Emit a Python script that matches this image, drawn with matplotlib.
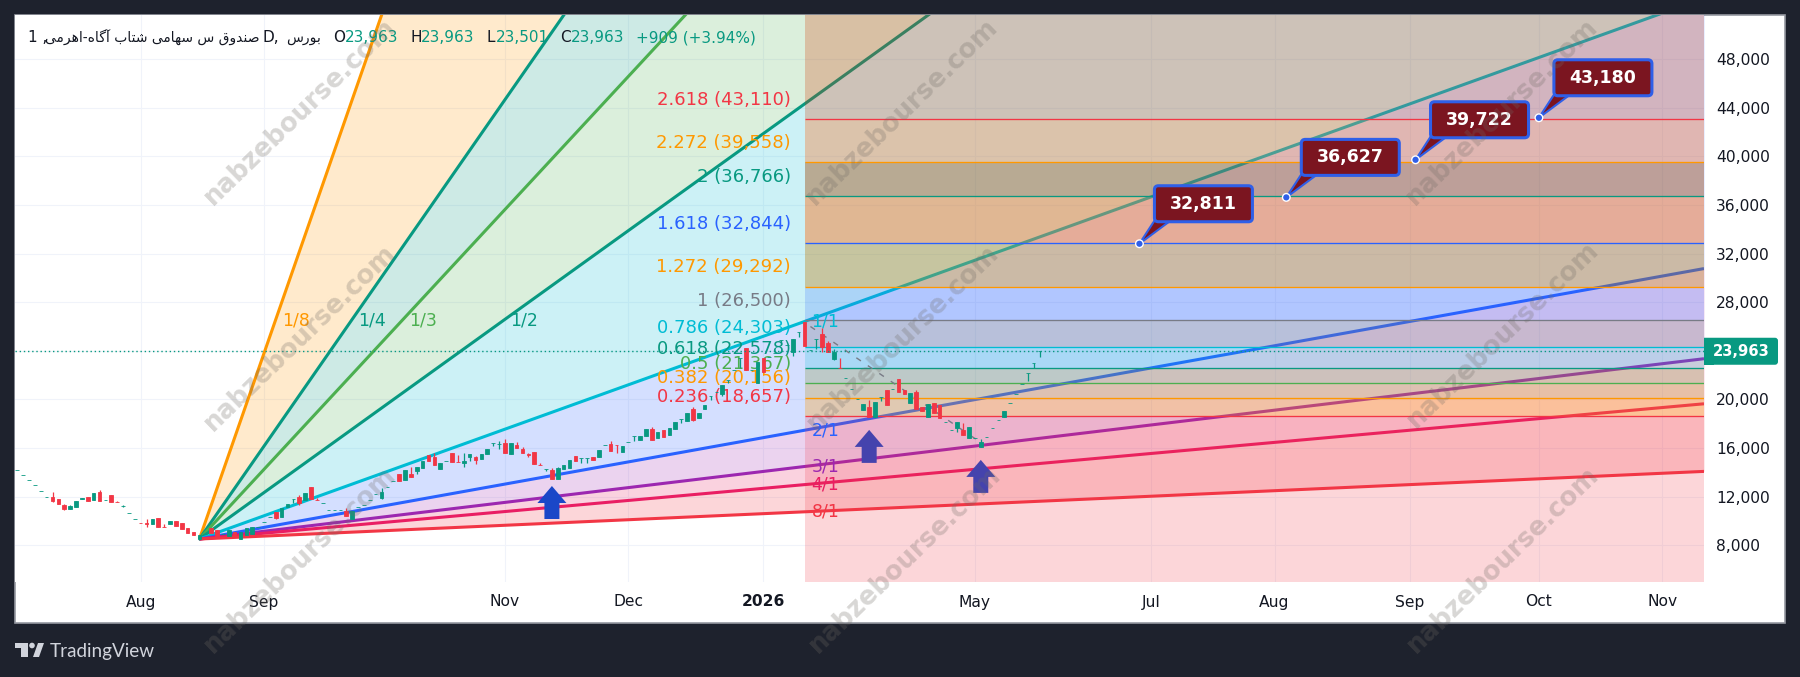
import numpy as np
import matplotlib
matplotlib.use("Agg")
import matplotlib.pyplot as plt
from matplotlib.patches import Polygon, Rectangle, FancyBboxPatch, Circle
from matplotlib.transforms import Affine2D

W, H = 1800, 677
BG = "#1e222d"
GREEN = "#089981"
RED = "#f23645"
ORANGE = "#ff9800"
BLUE = "#2962ff"
CYAN = "#00bcd4"
TEAL = "#089981"
LIME = "#4caf50"
PURPLE = "#9c27b0"
PINK = "#e91e63"
GRAY = "#787b86"

# daily candles
opens = [14160, 13750, 13340, 12930, 12435, 11940, 11940, 11780, 11333, 10980,
         11170, 11780, 12000, 11720, 12400, 11720, 12130, 11580, 11250, 10620,
         10180, 9860, 9850, 9720, 10210, 9510, 9745, 10020, 9800, 9390,
         9060, 8500, 8920, 9390, 9250, 8920, 8780, 9110, 8535, 8840,
         8920, 9520, 9885, 10320, 10760, 10345, 11120, 11780, 11940, 11720,
         12815, 11730, 11450, 10900, 10900, 10900, 10815, 10130, 11140, 11280,
         11720, 12190, 11860, 12815, 13283, 13860, 13366, 13860, 14100, 14330,
         15420, 15285, 14250, 14950, 15560, 14860, 14790, 15230, 15285, 15070,
         15480, 16385, 16300, 16385, 15480, 16250, 15890, 15500, 15650, 14610,
         14250, 14190, 13475, 14270, 14380, 15365, 15200, 15150, 15285, 15285,
         16250, 16330, 16260, 15650, 16520, 17010, 16660, 16990, 17560, 16850,
         17480, 17045, 17560, 18360, 18220, 19180, 18490, 19210, 20280, 20630,
         20445, 21596, 22400, 23380, 24200, 22420, 21370, 23380, 23500, 23800,
         24890, 24480, 23900, 25520, 26400, 24040, 24970, 25380, 24620, 23320,
         22610, 21740, 20830, 20010, 19127, 19400, 18580, 20170, 20770, 20830,
         21680, 20750, 19730, 20630, 19400, 18570, 19730, 19540, 18160, 17480,
         17620, 17480, 16850, 16800, 16100, 16900, 17620, 18300, 18570, 19680,
         20420, 21240, 22150, 22970, 23963]
highs = [14160, 13750, 13340, 12930, 12435, 11940, 12350, 11780, 11390, 11280,
         11610, 11910, 12000, 12270, 12543, 11720, 12130, 11640, 11290, 10620,
         10180, 9860, 10130, 10155, 10210, 9745, 9970, 10020, 9800, 9390,
         9060, 8860, 8920, 9390, 9250, 8920, 9250, 9110, 9110, 9390,
         9470, 9520, 9885, 10320, 10760, 11040, 11390, 11780, 12130, 12320,
         12815, 11910, 11450, 10900, 10900, 10900, 11040, 10840, 11140, 11280,
         11720, 12190, 12680, 12815, 13283, 13860, 14189, 14460, 14410, 14930,
         15420, 15560, 14740, 14950, 15560, 15420, 15560, 15480, 15365, 15480,
         15920, 16385, 16600, 16740, 16385, 16520, 16100, 15610, 15650, 14740,
         14250, 14330, 14410, 14600, 15010, 15365, 15200, 15150, 15285, 15810,
         16250, 16575, 16260, 16190, 16520, 17010, 16990, 17540, 17750, 17290,
         17480, 17670, 18160, 18360, 18850, 19400, 18900, 19540, 20280, 20630,
         21180, 21596, 22400, 23380, 24200, 22420, 23100, 23380, 23500, 23800,
         24890, 24480, 25000, 25520, 26400, 24040, 24970, 25850, 24800, 24130,
         23380, 21740, 20830, 20010, 19620, 19950, 19780, 20170, 20770, 20830,
         21680, 20750, 20500, 20770, 19400, 19600, 19730, 19540, 18160, 17480,
         18110, 18030, 17750, 16800, 16740, 16900, 17620, 18300, 19070, 19680,
         20420, 21240, 22150, 22970, 23963]
lows = [14160, 13750, 13340, 12930, 12435, 11940, 11580, 11415, 10900, 10940,
        11170, 11780, 11610, 11720, 11660, 11720, 11580, 11530, 11110, 10620,
        10180, 9850, 9470, 9720, 9500, 9500, 9745, 9600, 9330, 9030,
        8860, 8420, 8920, 9030, 8780, 8920, 8780, 8760, 8535, 8840,
        8920, 9520, 9885, 10320, 10130, 10345, 11120, 11450, 11310, 11720,
        11780, 11720, 11450, 10900, 10900, 10900, 10400, 10130, 11140, 11280,
        11720, 12190, 11780, 12815, 13283, 13310, 13366, 13590, 13880, 14330,
        14930, 14600, 14250, 14950, 14850, 14850, 14460, 14930, 14680, 15070,
        15480, 16190, 15890, 15560, 15480, 15975, 15560, 15280, 14680, 14600,
        14100, 13450, 13475, 14270, 14380, 14930, 14790, 14790, 15010, 15285,
        16250, 15750, 15610, 15650, 16520, 16575, 16660, 16990, 16660, 16850,
        16930, 17045, 17560, 18030, 18220, 18200, 18490, 19210, 19950, 20630,
        20280, 21320, 22400, 22560, 22420, 22420, 21370, 22280, 23500, 23800,
        24480, 24480, 23560, 25130, 24420, 24040, 24180, 23880, 23930, 23240,
        22600, 21740, 20830, 20010, 19127, 18530, 18580, 19870, 19540, 20830,
        20630, 20440, 19730, 19210, 19070, 18570, 18900, 18500, 18160, 17480,
        17340, 17070, 16850, 16800, 16100, 16900, 17620, 18300, 18570, 19680,
        20420, 21240, 21540, 22560, 23501]
closes = [14160, 13750, 13340, 12930, 12435, 11940, 11640, 11415, 10950, 11226,
          11610, 11910, 11610, 12270, 11660, 11720, 11580, 11530, 11250, 10620,
          10180, 9850, 9720, 10155, 9500, 9500, 9970, 9600, 9330, 9030,
          8860, 8800, 8920, 9030, 8780, 8920, 9250, 8760, 9110, 9390,
          9470, 9520, 9885, 10320, 10210, 11040, 11390, 11780, 11500, 12320,
          11780, 11720, 11450, 10900, 10900, 10900, 10400, 10840, 11140, 11280,
          11720, 12190, 12400, 12815, 13283, 13310, 14189, 13590, 14410, 14930,
          14950, 14600, 14740, 14950, 14850, 14850, 14950, 15480, 15010, 15480,
          15920, 16385, 16350, 15560, 16385, 15975, 15560, 15400, 14680, 14600,
          14250, 13450, 14330, 14600, 15010, 14930, 15200, 15150, 15010, 15810,
          16250, 15750, 16250, 16190, 16520, 17010, 16990, 17540, 16660, 17290,
          16930, 17670, 18160, 18360, 18850, 18300, 18900, 19540, 20280, 20630,
          21180, 21596, 22400, 23380, 22420, 22420, 23100, 22280, 23500, 23800,
          24890, 24480, 25000, 25520, 24420, 24040, 24970, 24340, 23930, 23930,
          22600, 21740, 20830, 20010, 19620, 18530, 19780, 20170, 19540, 20830,
          20630, 20440, 20500, 19210, 19070, 19600, 18900, 18500, 18160, 17480,
          18110, 17070, 17750, 16800, 16520, 16900, 17620, 18300, 19070, 19680,
          20420, 21240, 22150, 22970, 23963]

# axes
price_ticks = [8000, 12000, 16000, 20000, 24000, 28000, 32000, 36000, 40000, 44000, 48000]
shown_price_ticks = [8000, 12000, 16000, 20000, 28000, 32000, 36000, 40000, 44000, 48000]
date_bars = [21, 42, 83, 104, 127, 163, 193, 214, 237, 259, 280]
date_labels = ["Aug", "Sep", "Nov", "Dec", "2026", "May", "Jul", "Aug", "Sep", "Oct", "Nov"]
price_min, price_max = 4971, 51638
bar_min, bar_max = -0.39, 287.1

# fibonacci retracement
fib_left_bar = 134
fib_levels = [2.618, 2.272, 2, 1.618, 1.272, 1, 0.786, 0.618, 0.5, 0.382, 0.236]
fib_values = [43110, 39558, 36766, 32844, 29292, 26500, 24303, 22578, 21367, 20156, 18657]
fib_colors = [RED, ORANGE, TEAL, BLUE, ORANGE, GRAY, CYAN, TEAL, LIME, ORANGE, RED]
band_colors = ["#d03600", "#ff5a00", "#9b4100", "#ff6100", "#bd7500", BLUE,
               GRAY, CYAN, "#899949", "#be9928", ORANGE, RED]
band_alphas = [0.25, 0.3, 0.4, 0.4, 0.35, 0.2, 0.3, 0.2, 0.3, 0.3, 0.3, 0.2]

# fan from the August low
fan_bar, fan_price = 31, 8510
fan_end_bar, fan_end_price = 134.5, 26500
fan_names = ["1/8", "1/4", "1/3", "1/2", "1/1", "2/1", "3/1", "4/1", "8/1"]
fan_mults = [8, 4, 3, 2, 1, 1 / 2, 1 / 3, 1 / 4, 1 / 8]
fan_colors = [ORANGE, TEAL, LIME, TEAL, CYAN, BLUE, PURPLE, PINK, RED]
sector_colors = [ORANGE, TEAL, LIME, CYAN, BLUE, PURPLE, PINK, RED]

# markers drawn on top
arrow_bars = [91, 145, 164]
arrow_prices = [12872, 17490, 15020]
target_bars = [191, 216, 238, 259]
target_values = [32811, 36627, 39722, 43180]
trend_bars = [135, 164]
trend_prices = [26000, 16450]

header_values = [("O", 333, "23,963", 345), ("H", 410, "23,963", 421),
                 ("L", 487, "23,501", 496), ("C", 560, "23,963", 571)]
header_change = "+909 (+3.94%)"
watermark_centers = [(300, 112), (300, 338), (300, 560), (902, 112), (903, 338),
                     (905, 560), (1502, 112), (1503, 335), (1503, 560)]

# presentation forms: isolated, final, initial, medial
FORMS = {"ص": "\ufeb9\ufeba\ufebb\ufebc", "ن": "\ufee5\ufee6\ufee7\ufee8", "د": "\ufea9\ufeaa",
         "و": "\ufeed\ufeee", "ق": "\ufed5\ufed6\ufed7\ufed8", "س": "\ufeb1\ufeb2\ufeb3\ufeb4",
         "ه": "\ufee9\ufeea\ufeeb\ufeec", "ا": "\ufe8d\ufe8e", "م": "\ufee1\ufee2\ufee3\ufee4",
         "ی": "\ufbfc\ufbfd\ufbfe\ufbff", "ش": "\ufeb5\ufeb6\ufeb7\ufeb8", "ت": "\ufe95\ufe96\ufe97\ufe98",
         "ب": "\ufe8f\ufe90\ufe91\ufe92", "آ": "\ufe81\ufe82", "گ": "\ufb92\ufb93\ufb94\ufb95",
         "ر": "\ufead\ufeae"}


def persian(text):
    # matplotlib has no text shaping, so join the letters here and lay them out left to right
    out = []
    for i, ch in enumerate(text):
        if ch not in FORMS:
            out.append(ch)
            continue
        prev_joins = i > 0 and text[i - 1] in FORMS and len(FORMS[text[i - 1]]) == 4
        next_joins = i + 1 < len(text) and text[i + 1] in FORMS
        if len(FORMS[ch]) == 2:
            out.append(FORMS[ch][1 if prev_joins else 0])
        elif prev_joins and next_joins:
            out.append(FORMS[ch][3])
        elif next_joins:
            out.append(FORMS[ch][2])
        else:
            out.append(FORMS[ch][1 if prev_joins else 0])
    return "".join(reversed(out))


fig = plt.figure(figsize=(W / 100, H / 100), dpi=100, facecolor=BG)
ax = fig.add_axes([15 / W, (H - 582) / H, (1704 - 15) / W, (582 - 15) / H], facecolor="white", zorder=1)
ax.set_xlim(bar_min, bar_max)
ax.set_ylim(price_min, price_max)

# everything outside the axes is placed in image pixels, y down
img = Affine2D().scale(1 / W, -1 / H).translate(0, 1) + fig.transFigure
fig.add_artist(Rectangle((15, 15), 1770, 608, transform=img, fc="white", ec="#9598a1", lw=1.2, zorder=0))

for s in ax.spines.values():
    s.set_visible(False)
ax.yaxis.tick_right()
ax.set_yticks(price_ticks)
ax.set_yticklabels([f"{p:,}" if p in shown_price_ticks else "" for p in price_ticks])
ax.set_xticks(date_bars)
ax.set_xticklabels(date_labels)
ax.tick_params(axis="both", length=0, labelsize=11.2, labelcolor="#131722")
ax.tick_params(axis="y", pad=8.6)
ax.tick_params(axis="x", pad=9)
ax.get_xticklabels()[4].set_fontweight("bold")
ax.grid(True, color="#f0f3fa", lw=0.8, zorder=0.5)
ax.set_axisbelow(True)

# fan sectors and rays
slope = (fan_end_price - fan_price) / (fan_end_bar - fan_bar)
fan_x = np.array([fan_bar, bar_max])
fan_y = [fan_price + m * slope * (fan_x - fan_bar) for m in fan_mults]
for i in range(len(fan_mults) - 1):
    ax.fill_between(fan_x, fan_y[i], fan_y[i + 1], color=sector_colors[i], alpha=0.2, lw=0, zorder=2)
for y, c in zip(fan_y, fan_colors):
    ax.plot(fan_x, y, color=c, lw=2.2, zorder=3, solid_capstyle="butt")


def at_data(x, y):
    return Affine2D().translate(*ax.transData.transform((x, y)))


# blue arrows under the fib shading
arrow_shape = [(0, 0), (14.5, -17), (7.5, -17), (7.5, -33), (-7.5, -33), (-7.5, -17), (-14.5, -17)]
for b, p in zip(arrow_bars, arrow_prices):
    ax.add_patch(Polygon(arrow_shape, closed=True, transform=at_data(b, p), fc="#1a47c8", ec="none", zorder=3.5))

# fib bands from top to bottom
edges = [price_max] + fib_values + [price_min]
for i in range(len(edges) - 1):
    ax.fill_between([fib_left_bar, bar_max], edges[i + 1], edges[i], color=band_colors[i],
                    alpha=band_alphas[i], lw=0, zorder=4)
ax.hlines(fib_values, fib_left_bar, bar_max, colors=fib_colors, lw=0.95, zorder=5)
ax.plot(trend_bars, trend_prices, color=GRAY, lw=1, ls=(0, (4, 6)), zorder=5)

for lvl, val, c in zip(fib_levels, fib_values, fib_colors):
    ax.annotate(f"{lvl} ({val:,})", (fib_left_bar - 2.3, val), xytext=(0, 13.7), textcoords="offset points",
                ha="right", va="center", color=c, fontsize=13, zorder=6)

# ray names sit where each ray meets the fib box
for name, m, c in zip(fan_names, fan_mults, fan_colors):
    if m > 1:
        x = fan_bar + (fan_end_price - fan_price) / (m * slope)
        y = fan_end_price
    else:
        x = fib_left_bar
        y = fan_price + m * slope * (x - fan_bar)
    ax.annotate(name, (x, y), xytext=(5, 0), textcoords="offset points", ha="left", va="center",
                color=c, fontsize=12.5, zorder=6)

# candles
bars = np.arange(len(closes))
o = np.array(opens)
c = np.array(closes)
candle_colors = [GREEN if c[i] >= o[i] else RED for i in bars]
ax.vlines(bars, lows, highs, colors=candle_colors, lw=0.9, zorder=6.5)
ax.bar(bars, np.abs(c - o), bottom=np.minimum(o, c), width=0.62, color=candle_colors,
       edgecolor=candle_colors, lw=0.6, zorder=6.6)

# last price line and tag
ax.axhline(closes[-1], color=GREEN, lw=1, ls=(0, (1, 2)), zorder=6.8)
y_last = ax.transData.transform((0, closes[-1]))[1]
tag = Affine2D().translate(1704, y_last)
fig.add_artist(FancyBboxPatch((-6, -13.5), 80, 27, boxstyle="round,pad=0,rounding_size=3", transform=tag,
                              fc=GREEN, ec="none", zorder=0.5))
fig.add_artist(Rectangle((0, -13.5), 10, 27, transform=tag, fc=GREEN, ec="none", zorder=2))
fig.text(1741 / W, y_last / H, f"{closes[-1]:,}", color="white", fontsize=10.6, fontweight="bold",
         ha="center", va="center", zorder=3)

# target callouts
for b, v in zip(target_bars, target_values):
    t = at_data(b, v)
    ax.add_patch(Polygon([(0, 0), (15, 23), (31, 23)], closed=True, transform=t, fc="#7b1520", ec="#2f5fe8",
                         lw=1.5, joinstyle="round", zorder=7))
    ax.add_patch(FancyBboxPatch((15, 22), 98, 36, boxstyle="round,pad=0,rounding_size=4", transform=t,
                                fc="#7b1520", ec="#2f5fe8", lw=2.2, zorder=7.1))
    ax.add_patch(Circle((0, 0), 3.8, transform=t, fc="#2f5fe8", ec="white", lw=1, zorder=7.2))
    ax.text(64, 40, f"{v:,}", transform=t, color="white", fontsize=12.5, fontweight="bold",
            ha="center", va="center", zorder=7.3)

# header row
name_text = persian("صندوق س سهامی شتاب آگاه-اهرمی")
fig.text(28, 38, "1 ,", transform=img, color="#131722", fontsize=11, va="center")
fig.text(45, 38, name_text, transform=img, color="#131722", fontsize=10, va="center")
fig.text(263, 38, "D,", transform=img, color="#131722", fontsize=11, va="center")
fig.text(286, 38, persian("بورس"), transform=img, color="#131722", fontsize=10, va="center")
for letter, lx, val, vx in header_values:
    fig.text(lx, 38, letter, transform=img, color="#131722", fontsize=11, va="center")
    fig.text(vx, 38, val, transform=img, color=GREEN, fontsize=11, va="center")
fig.text(636, 38, header_change, transform=img, color=GREEN, fontsize=11, va="center")

# site stamp repeated over the whole picture
for cx, cy in watermark_centers:
    fig.text(cx, cy, "nabzebourse.com", transform=img, color="#6f6a64", alpha=0.27, fontsize=18.5,
             fontweight="bold", rotation=44, rotation_mode="anchor", ha="center", va="center", zorder=9)

# TradingView mark
logo = "#d1d4dc"
fig.add_artist(Polygon([(15, 643), (28, 643), (28, 657), (21, 657), (21, 648), (15, 648)], transform=img, fc=logo, ec="none"))
fig.add_artist(Circle((32, 645.5), 2.8, transform=img, fc=logo, ec="none"))
fig.add_artist(Polygon([(38, 643), (44, 643), (39, 657), (33, 657)], transform=img, fc=logo, ec="none"))
fig.text(50, 652, "TradingView", transform=img, color=logo, fontsize=13.6, family="Lato", va="center")

fig.savefig("out.png", dpi=100, facecolor=BG)
